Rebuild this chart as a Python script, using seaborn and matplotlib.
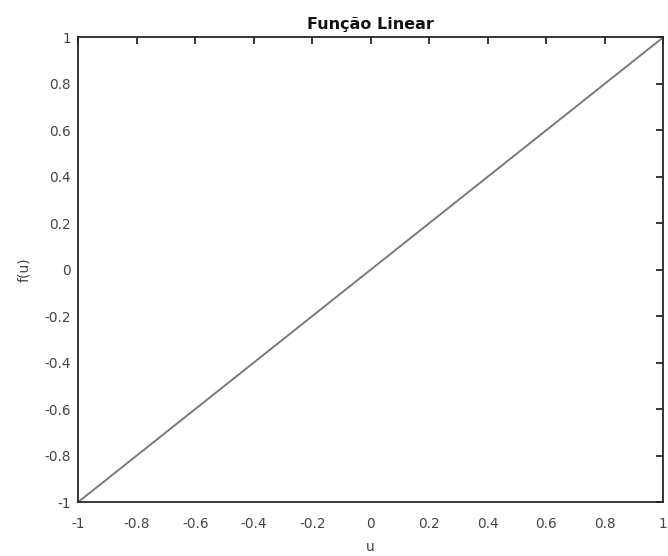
import matplotlib
matplotlib.use("Agg")
import matplotlib.pyplot as plt
import seaborn as sns
import pandas as pd

# Linear activation function sampled at its endpoints
u_vals = [-1.0, 1.0]
f_vals = [-1.0, 1.0]
x_ticks = [-1, -0.8, -0.6, -0.4, -0.2, 0, 0.2, 0.4, 0.6, 0.8, 1]
y_ticks = [-1, -0.8, -0.6, -0.4, -0.2, 0, 0.2, 0.4, 0.6, 0.8, 1]
tick_labels = ["-1", "-0.8", "-0.6", "-0.4", "-0.2", "0", "0.2", "0.4", "0.6", "0.8", "1"]

sns.set_style("white")
plt.rcParams["font.family"] = ["DejaVu Sans"]

fig = plt.figure(figsize=(6.68, 5.56), dpi=100)
ax = fig.add_axes([0.117, 0.097, 0.876, 0.836])

df = pd.DataFrame({"u": u_vals, "f(u)": f_vals})
sns.lineplot(data=df, x="u", y="f(u)", ax=ax, color="#7a7a7a", linewidth=1.4)

ax.set_xlim(-1, 1)
ax.set_ylim(-1, 1)
ax.set_xticks(x_ticks)
ax.set_xticklabels(tick_labels)
ax.set_yticks(y_ticks)
ax.set_yticklabels(tick_labels)

for side in ["left", "right", "top", "bottom"]:
    ax.spines[side].set_visible(True)
    ax.spines[side].set_color("#262626")
    ax.spines[side].set_linewidth(1.3)

ax.tick_params(axis="both", direction="in", length=5, width=1.3, color="#262626",
               labelsize=9.8, labelcolor="#444444", top=True, right=True)
ax.tick_params(axis="x", pad=11)
ax.tick_params(axis="y", pad=5)
ax.set_xlabel("u", fontsize=10, color="#444444", labelpad=6)
ax.set_ylabel("f(u)", fontsize=10, color="#444444", labelpad=10)
ax.set_title("Função Linear", fontsize=11.5, fontweight="bold", color="#111111", pad=6)

fig.savefig("out.png", dpi=100)
